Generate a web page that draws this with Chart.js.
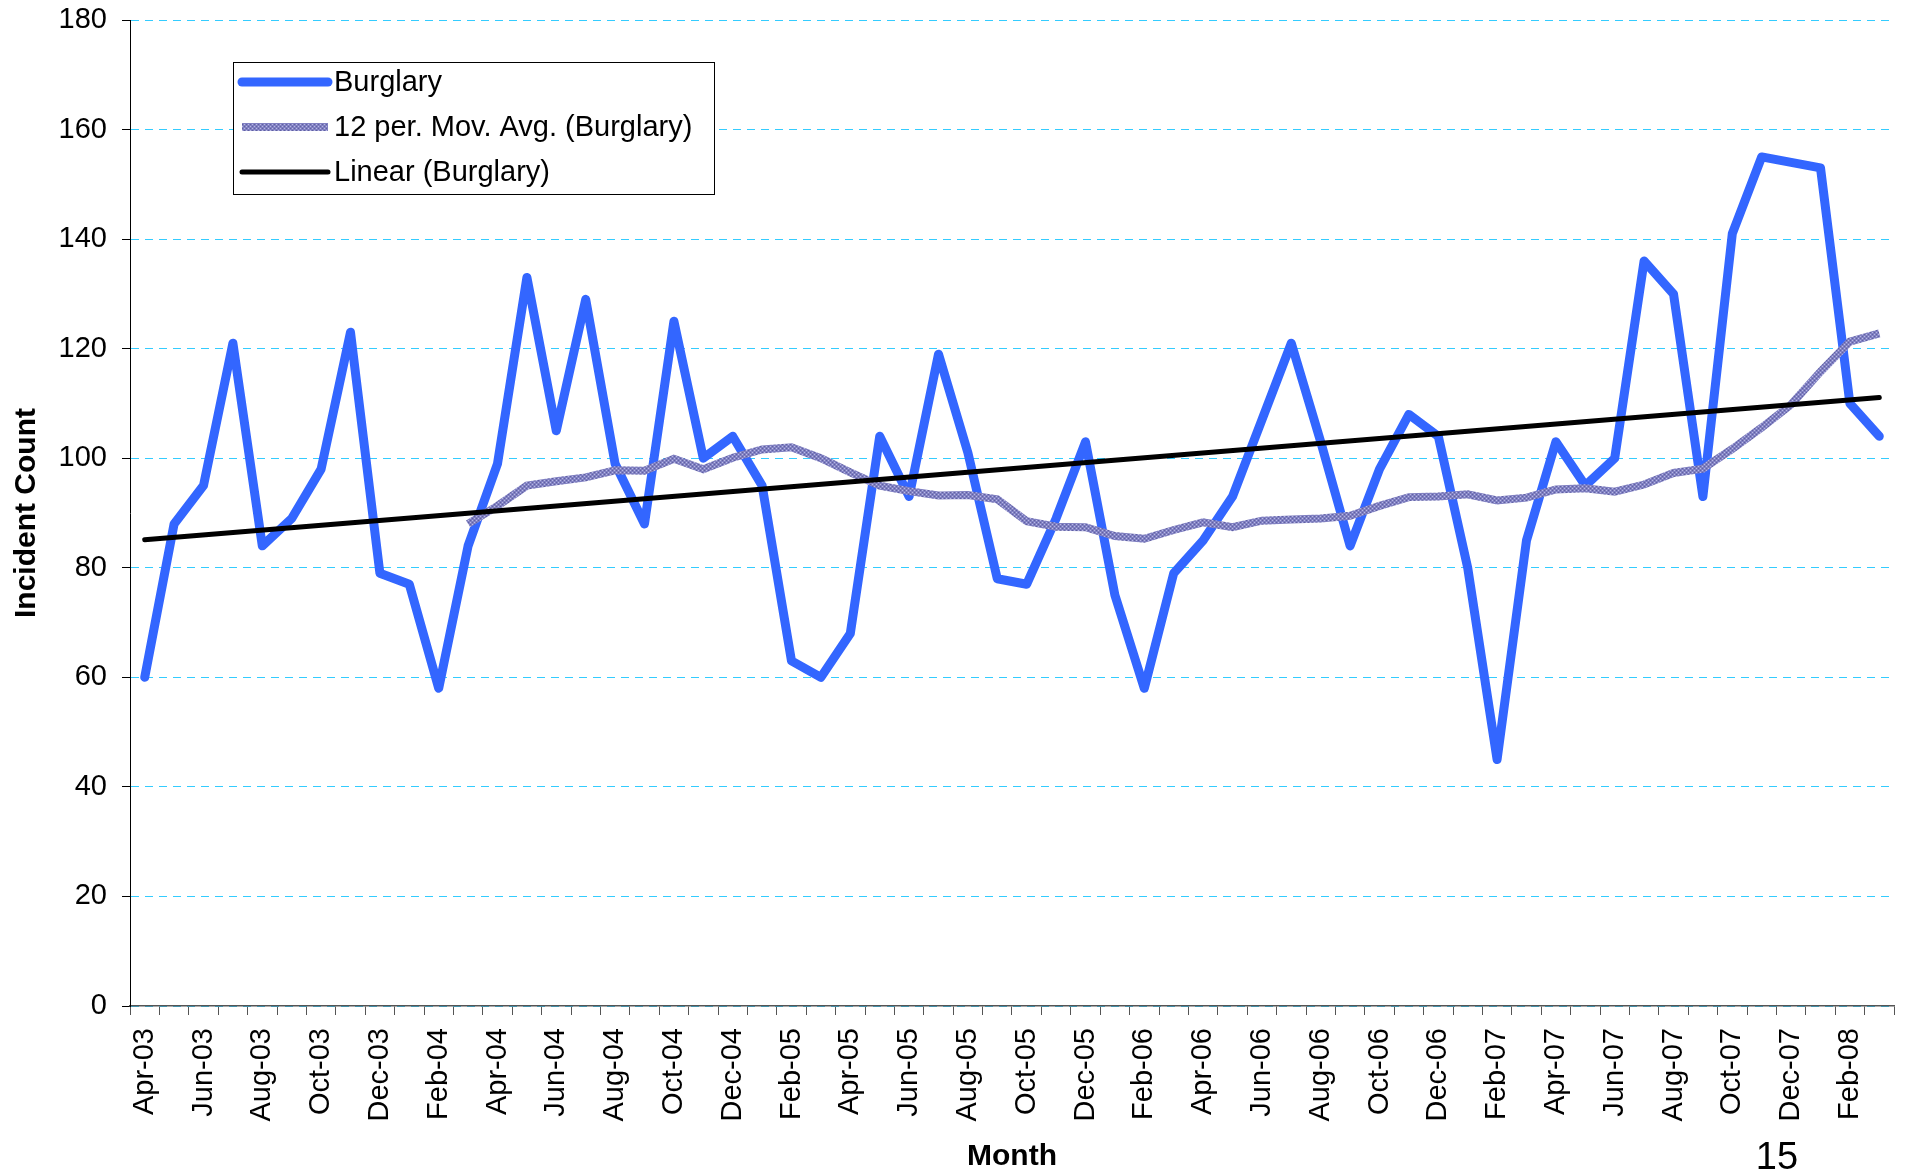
<!DOCTYPE html>
<html>
<head>
<meta charset="utf-8">
<script src="https://cdn.jsdelivr.net/npm/chart.js@4/dist/chart.umd.min.js"></script>
<style>
html,body{margin:0;padding:0;background:#fff;}
canvas{display:block;}
</style>
</head>
<body>
<canvas id="c" width="1905" height="1172"></canvas>
<script>
const months = [
  "Apr-03","May-03","Jun-03","Jul-03","Aug-03","Sep-03","Oct-03","Nov-03","Dec-03",
  "Jan-04","Feb-04","Mar-04","Apr-04","May-04","Jun-04","Jul-04","Aug-04","Sep-04","Oct-04","Nov-04","Dec-04",
  "Jan-05","Feb-05","Mar-05","Apr-05","May-05","Jun-05","Jul-05","Aug-05","Sep-05","Oct-05","Nov-05","Dec-05",
  "Jan-06","Feb-06","Mar-06","Apr-06","May-06","Jun-06","Jul-06","Aug-06","Sep-06","Oct-06","Nov-06","Dec-06",
  "Jan-07","Feb-07","Mar-07","Apr-07","May-07","Jun-07","Jul-07","Aug-07","Sep-07","Oct-07","Nov-07","Dec-07",
  "Jan-08","Feb-08","Mar-08"
];

const burglary = [
  60, 88, 95, 121, 84, 89, 98, 123, 79, 77, 58, 84,
  99, 133, 105, 129, 99, 88, 125, 100, 104, 95, 63, 60,
  68, 104, 93, 119, 101, 78, 77, 89, 103, 75, 58, 79,
  85, 93, 107, 121, 103, 84, 98, 108, 104, 80, 45, 85,
  103, 95, 100, 136, 130, 93, 141, 155, 154, 153, 110, 104
];

const movingAvg = [
  null, null, null, null, null, null, null, null, null, null, null,
  88.0, 91.3, 95.0, 95.8, 96.5, 97.8, 97.7, 99.9, 98.0, 100.1,
  101.6, 102.0, 100.0, 97.4, 95.0, 94.0, 93.2, 93.3, 92.5, 88.5,
  87.5, 87.4, 85.8, 85.3, 86.9, 88.3, 87.4, 88.6, 88.8, 89.0,
  89.5, 91.3, 92.9, 93.0, 93.4, 92.3, 92.8, 94.3, 94.5, 93.9,
  95.2, 97.3, 98.1, 101.7, 105.6, 109.8, 115.8, 121.3, 122.8
];

const trendEnds = [85.1, 111.1];

const yTicks = [0, 20, 40, 60, 80, 100, 120, 140, 160, 180];

const seriesNames = ["Burglary", "12 per. Mov. Avg. (Burglary)", "Linear (Burglary)"];

const FONT = "'Liberation Sans', Arial, Helvetica, sans-serif";

const trendData = months.map((m, i) => i === 0 ? trendEnds[0] : (i === months.length - 1 ? trendEnds[1] : null));

// textured pattern for moving average line
const pc = document.createElement('canvas');
pc.width = 4; pc.height = 4;
const pctx = pc.getContext('2d');
pctx.fillStyle = '#8080c2'; pctx.fillRect(0, 0, 4, 4);
pctx.fillStyle = '#b9b9e4'; pctx.fillRect(0, 0, 1, 1); pctx.fillRect(2, 2, 1, 1);
pctx.fillStyle = '#60609f'; pctx.fillRect(2, 0, 1, 1); pctx.fillRect(0, 2, 1, 1);

const canvas = document.getElementById('c');
const ctx = canvas.getContext('2d');
const maPattern = ctx.createPattern(pc, 'repeat');

const extras = {
  id: 'extras',
  afterDraw(chart) {
    const c = chart.ctx;
    c.save();
    // legend box
    const bx = 233.5, by = 62.5, bw = 481, bh = 132;
    c.fillStyle = '#ffffff';
    c.fillRect(bx, by, bw, bh);
    c.strokeStyle = '#000000';
    c.lineWidth = 1;
    c.strokeRect(bx, by, bw, bh);
    const rows = [82, 127, 172];
    chart.data.datasets.forEach((ds, i) => {
      const y = rows[i];
      c.beginPath();
      c.moveTo(242, y);
      c.lineTo(328, y);
      c.strokeStyle = ds.borderColor;
      c.lineWidth = ds.borderWidth;
      c.lineCap = i === 1 ? 'butt' : 'round';
      c.stroke();
      c.fillStyle = '#000';
      c.font = '29px ' + FONT;
      c.textAlign = 'left';
      c.textBaseline = 'middle';
      c.fillText(ds.label, 334, y + 1);
    });
    // page number
    c.fillStyle = '#000';
    c.font = '38px ' + FONT;
    c.textAlign = 'center';
    c.textBaseline = 'alphabetic';
    c.fillText('15', 1777, 1169);
    c.restore();
  }
};

new Chart(ctx, {
  type: 'line',
  data: {
    labels: months,
    datasets: [
      {
        label: seriesNames[0],
        data: burglary,
        borderColor: '#3366ff',
        borderWidth: 9,
        pointRadius: 0,
        tension: 0,
        borderCapStyle: 'round',
        borderJoinStyle: 'round',
        fill: false,
        order: 3
      },
      {
        label: seriesNames[1],
        data: movingAvg,
        borderColor: maPattern,
        borderWidth: 8,
        pointRadius: 0,
        tension: 0,
        fill: false,
        spanGaps: false,
        order: 2
      },
      {
        label: seriesNames[2],
        data: trendData,
        borderColor: '#000000',
        borderWidth: 5,
        pointRadius: 0,
        tension: 0,
        borderCapStyle: 'round',
        spanGaps: true,
        fill: false,
        order: 1
      }
    ]
  },
  options: {
    responsive: false,
    animation: false,
    devicePixelRatio: 1,
    layout: { padding: { top: 20, right: 11, left: 0, bottom: 0 } },
    plugins: {
      legend: { display: false },
      tooltip: { enabled: false }
    },
    scales: {
      x: {
        type: 'category',
        offset: true,
        grid: {
          offset: true,
          drawOnChartArea: false,
          drawTicks: true,
          tickLength: 9,
          tickColor: '#555555',
          tickWidth: 1
        },
        border: { display: true, color: '#555555', width: 1.5 },
        ticks: {
          autoSkip: false,
          maxRotation: 90,
          minRotation: 90,
          padding: 13,
          color: '#000',
          font: { family: FONT, size: 29 },
          callback: function (val, idx) { return idx % 2 === 0 ? this.getLabelForValue(val) : ''; }
        },
        title: {
          display: true,
          text: 'Month',
          color: '#000',
          font: { family: FONT, size: 30, weight: 'bold', lineHeight: 1.0 },
          padding: { top: 0, bottom: 0 }
        },
        afterFit(scale) {
          scale.height = 166;
          scale.paddingLeft = 0; scale.paddingRight = 0;
          scale.paddingTop = 0; scale.paddingBottom = 0;
        }
      },
      y: {
        min: yTicks[0],
        max: yTicks[yTicks.length - 1],
        afterBuildTicks(scale) { scale.ticks = yTicks.map(v => ({ value: v })); },
        grid: {
          color: '#33ccff',
          lineWidth: 1,
          drawTicks: true,
          tickLength: 8,
          tickColor: '#000000',
          tickWidth: 1,
          tickBorderDash: []
        },
        border: { display: true, color: '#000000', width: 1, dash: [8, 6] },
        ticks: {
          padding: 15,
          color: '#000',
          font: { family: FONT, size: 29 }
        },
        title: {
          display: true,
          text: 'Incident Count',
          color: '#000',
          font: { family: FONT, size: 30, weight: 'bold' },
          padding: { top: 9, bottom: 0 }
        },
        afterFit(scale) {
          scale.width = 130;
          scale.paddingLeft = 0; scale.paddingRight = 0;
          scale.paddingTop = 0; scale.paddingBottom = 0;
        }
      }
    }
  },
  plugins: [extras]
});
</script>
</body>
</html>
